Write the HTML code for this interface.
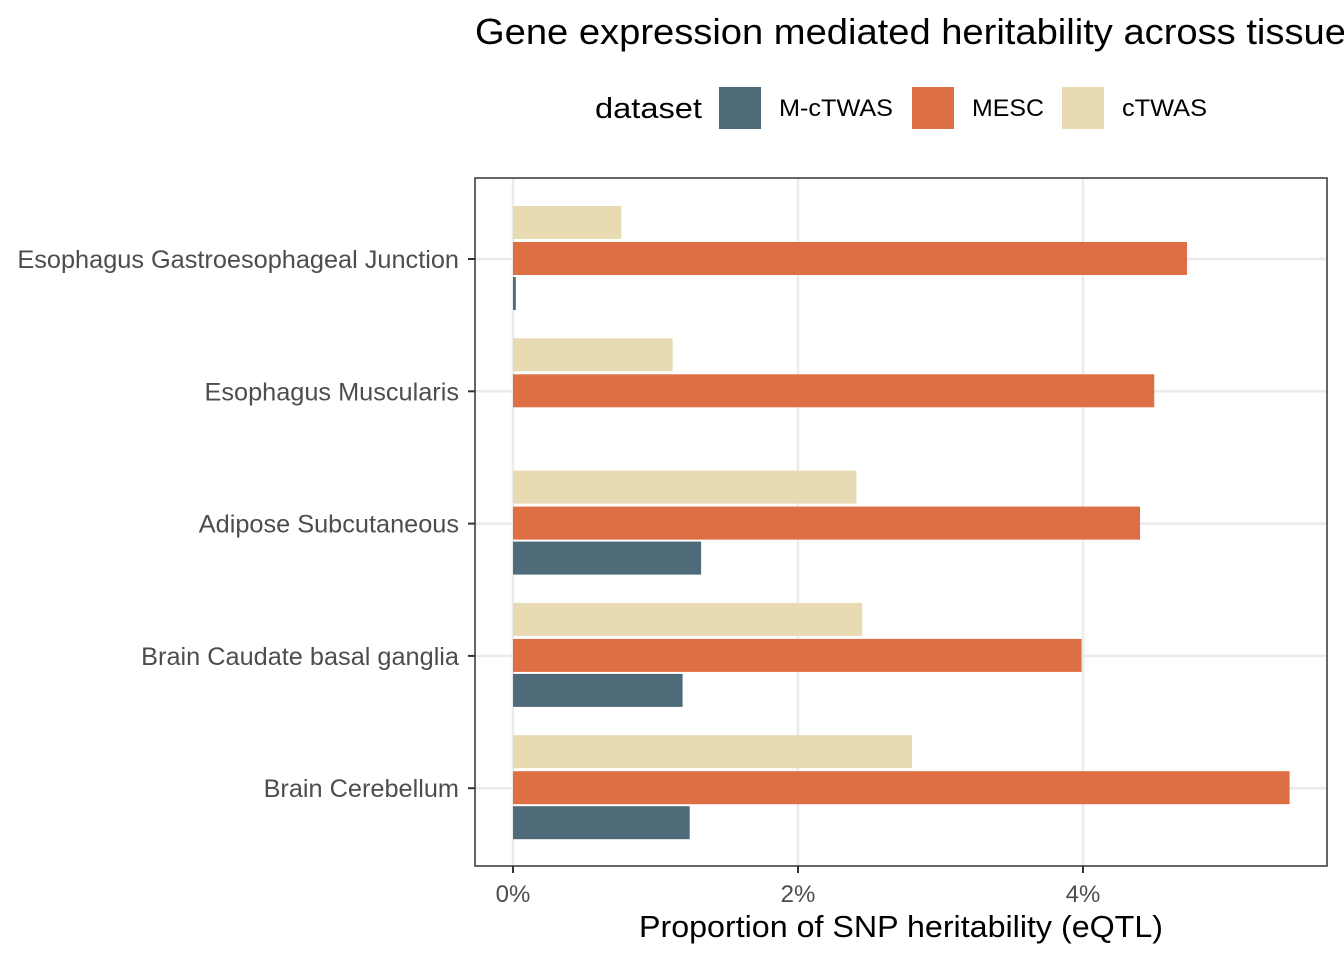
<!DOCTYPE html>
<html><head><meta charset="utf-8"><style>
body{margin:0;background:#fff;}
svg{display:block;font-family:"Liberation Sans",sans-serif;}
</style></head><body>
<svg id="chart" width="1344" height="960">
<text x="475" y="44" font-size="36" fill="#000" textLength="890" lengthAdjust="spacingAndGlyphs">Gene expression mediated heritability across tissues</text>
<g>
<text x="595" y="118" font-size="29" fill="#000" textLength="107" lengthAdjust="spacingAndGlyphs">dataset</text>
<rect x="719" y="87" width="42" height="42" fill="#4f6b7a"/>
<text x="779" y="116" font-size="24" textLength="114" lengthAdjust="spacingAndGlyphs">M-cTWAS</text>
<rect x="912" y="87" width="42" height="42" fill="#de6e44"/>
<text x="972" y="116" font-size="24" textLength="72" lengthAdjust="spacingAndGlyphs">MESC</text>
<rect x="1062" y="87" width="42" height="42" fill="#e8dab3"/>
<text x="1122" y="116" font-size="24" textLength="85" lengthAdjust="spacingAndGlyphs">cTWAS</text>
</g>
<g id="plot"></g>
<text x="639" y="937" font-size="31" textLength="524" lengthAdjust="spacingAndGlyphs">Proportion of SNP heritability (eQTL)</text>
</svg>
<script>
const categories=["Esophagus Gastroesophageal Junction","Esophagus Muscularis","Adipose Subcutaneous","Brain Caudate basal ganglia","Brain Cerebellum"];
const ctwas=[0.76,1.12,2.41,2.45,2.80];
const mesc=[4.73,4.50,4.40,3.99,5.45];
const mctwas=[0.02,0,1.32,1.19,1.24];
const xTicks=[0,2,4];
const L=475,R=1327,T=178,B=866;
const x=v=>513+v*142.5;
const yc=i=>259+i*132.3;
const g=document.getElementById('plot');
const NS="http://www.w3.org/2000/svg";
function mk(t,a){const e=document.createElementNS(NS,t);for(const k in a)e.setAttribute(k,a[k]);g.appendChild(e);return e;}
xTicks.forEach(v=>{const e=mk('line',{x1:x(v),x2:x(v),y1:T,y2:B,stroke:'#ebebeb','stroke-width':2.5});


const tk=mk('line',{x1:x(v),x2:x(v),y1:B,y2:B+7,stroke:'#333','stroke-width':2});


const t=mk('text',{x:x(v),y:B+36,'font-size':24,fill:'#4d4d4d','text-anchor':'middle'});t.textContent=v+'%';

});
categories.forEach((c,i)=>{const y=yc(i);
const gl=mk('line',{x1:L,x2:R,y1:y,y2:y,stroke:'#ebebeb','stroke-width':2.5});


const tk=mk('line',{x1:L-7,x2:L,y1:y,y2:y,stroke:'#333','stroke-width':2});


const t=mk('text',{x:459,y:y+9,'font-size':25.3,fill:'#4d4d4d','text-anchor':'end'});t.textContent=c;


[[ctwas,'#e8dab3',-53,'bar-ctwas'],[mesc,'#de6e44',-17,'bar-mesc'],[mctwas,'#4f6b7a',18,'bar-m-ctwas']].forEach(([arr,col,off,nm])=>{
if(arr[i]<=0)return;
const r=mk('rect',{x:x(0),y:y+off,width:x(arr[i])-x(0),height:33,fill:col});

});
});
const fr=mk('rect',{x:L,y:T,width:R-L,height:B-T,fill:'none',stroke:'#333','stroke-width':1.5});


</script>
</body></html>
